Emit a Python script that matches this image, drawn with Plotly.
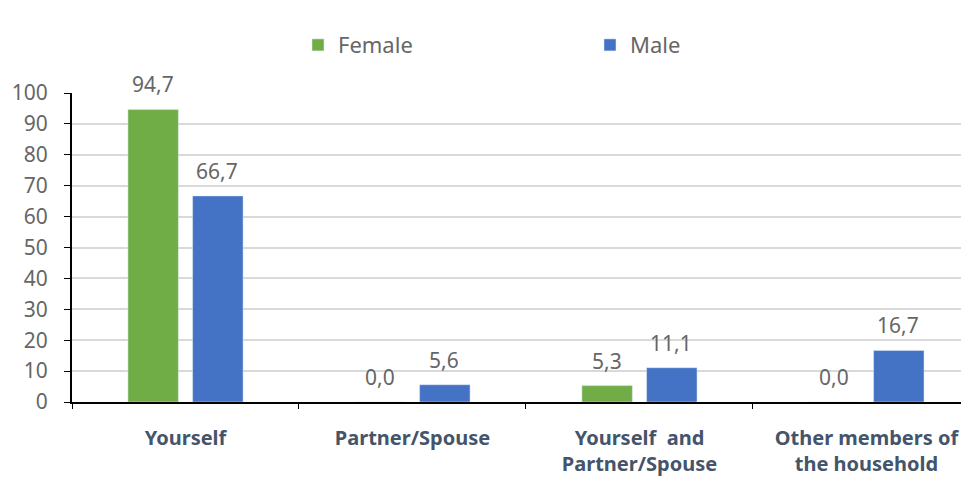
import plotly.graph_objects as go

categories = ["Yourself", "Partner/Spouse", "Yourself  and<br>Partner/Spouse", "Other members of<br>the household"]
female = [94.7, 0.0, 5.3, 0.0]
male = [66.7, 5.6, 11.1, 16.7]
y_ticks = [0, 10, 20, 30, 40, 50, 60, 70, 80, 90, 100]

GREEN = "#70AD47"
BLUE = "#4472C4"
FONT = "Noto Sans"
GREY = "#666666"

def fmt(v):
    return f"{v:.1f}".replace(".", ",")

fig = go.Figure()
fig.add_trace(go.Bar(name="Female", x=categories, y=female, marker_color=GREEN))
fig.add_trace(go.Bar(name="Male", x=categories, y=male, marker_color=BLUE))

for series, shift in ((female, -32), (male, 32)):
    for c, v in zip(categories, series):
        fig.add_annotation(x=c, y=v, text=fmt(v), showarrow=False, xshift=shift,
                           yanchor="bottom", yshift=9,
                           font=dict(family=FONT, size=21, color=GREY))

# page body adds 8px offset; margins compensate
fig.update_layout(
    width=969, height=484,
    margin=dict(l=64, r=0, t=85, b=90),
    paper_bgcolor="white", plot_bgcolor="white",
    barmode="group", bargap=0.43, bargroupgap=0.22,
    font=dict(family=FONT, size=20, color=GREY),
    legend=dict(orientation="h", x=0.2497, xanchor="left", y=1.155, yanchor="middle",
                font=dict(family=FONT, size=22, color=GREY),
                entrywidth=247, itemwidth=30),
    showlegend=True,
)
fig.update_xaxes(range=[-0.5, 3.487], showline=True, linecolor="black", linewidth=2,
                 ticks="outside", tickson="boundaries", ticklen=5, tickcolor="black",
                 ticklabelstandoff=17,
                 tickfont=dict(family=FONT, size=20, color="#44546A", weight="bold"),
                 showgrid=False)
fig.update_yaxes(range=[0, 100], tickvals=y_ticks, showline=True, linecolor="black", linewidth=2,
                 ticks="outside", ticklen=6, tickcolor="black", ticklabelstandoff=12,
                 gridcolor="#D9D9D9", gridwidth=2, zeroline=False,
                 tickfont=dict(family=FONT, size=21, color=GREY))

fig.write_html("out.html")
